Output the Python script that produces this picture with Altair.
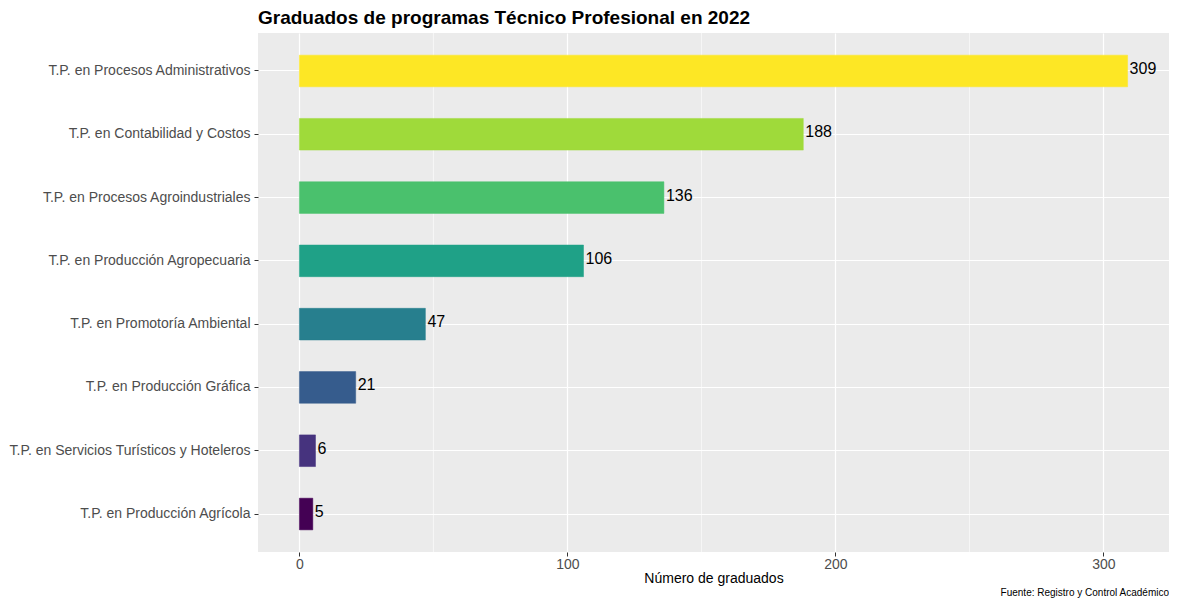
import altair as alt
import pandas as pd

programas = [
    "T.P. en Procesos Administrativos",
    "T.P. en Contabilidad y Costos",
    "T.P. en Procesos Agroindustriales",
    "T.P. en Producción Agropecuaria",
    "T.P. en Promotoría Ambiental",
    "T.P. en Producción Gráfica",
    "T.P. en Servicios Turísticos y Hoteleros",
    "T.P. en Producción Agrícola",
]
graduados = [309, 188, 136, 106, 47, 21, 6, 5]
colores = ["#FDE725", "#9FDA3A", "#4AC16D", "#1FA187", "#277F8E", "#365C8D", "#46337E", "#440154"]
ticks_mayores = [0, 100, 200, 300]
ticks_menores = [50, 150, 250]

df = pd.DataFrame({"programa": programas, "graduados": graduados})
df_minor = pd.DataFrame({"v": ticks_menores})

W, H = 911, 519
FONT = "Liberation Sans"

xscale = alt.Scale(domain=[-15.45, 324.45], nice=False, zero=False)
yscale = alt.Scale(domain=programas, paddingInner=0.5, paddingOuter=0.35)

minor = alt.Chart(df_minor).mark_rule(color="white", strokeWidth=0.6).encode(
    x=alt.X("v:Q", scale=xscale)
)

bars = alt.Chart(df).mark_bar(strokeWidth=0.5).encode(
    x=alt.X("graduados:Q", scale=xscale,
            axis=alt.Axis(values=ticks_mayores, title="Número de graduados",
                          grid=True, gridColor="white", gridWidth=1.2,
                          labelColor="#4D4D4D", labelFontSize=14, labelFont=FONT,
                          titleFont=FONT, titleFontSize=14, titleFontWeight="normal",
                          titleColor="black", titlePadding=0,
                          tickColor="#333333", tickSize=4, domain=False, labelPadding=1)),
    y=alt.Y("programa:N", scale=yscale, sort=programas,
            axis=alt.Axis(title=None, grid=True, gridColor="white", gridWidth=1.2,
                          labelColor="#4D4D4D", labelFontSize=14, labelFont=FONT,
                          tickColor="#333333", tickSize=4, domain=False, labelPadding=4,
                          labelLimit=400)),
    color=alt.Color("programa:N", scale=alt.Scale(domain=programas, range=colores), legend=None),
    stroke=alt.Color("programa:N", scale=alt.Scale(domain=programas, range=colores), legend=None),
)

labels = alt.Chart(df).mark_text(align="left", baseline="middle", dx=2, dy=-2,
                                 fontSize=16, font=FONT, color="black").encode(
    x=alt.X("graduados:Q", scale=xscale),
    y=alt.Y("programa:N", scale=yscale, sort=programas),
    text=alt.Text("graduados:Q"),
)

caption = alt.Chart(pd.DataFrame({"t": ["Fuente: Registro y Control Académico"]})).mark_text(
    align="right", baseline="middle", fontSize=10, font=FONT, color="black"
).encode(
    x=alt.value(W), y=alt.value(H + 41), text="t:N"
)

chart = alt.layer(minor, bars, labels, caption).properties(
    width=W, height=H,
    padding={"left": 0, "top": 0, "right": 0, "bottom": 0},
    title=alt.TitleParams("Graduados de programas Técnico Profesional en 2022",
                          anchor="start", frame="group", font=FONT, fontSize=19,
                          fontWeight="bold", color="black", offset=5),
    background="white",
).configure_view(fill="#EBEBEB", stroke=None)

chart.save("out.html", embed_options={"renderer": "svg", "actions": False})
